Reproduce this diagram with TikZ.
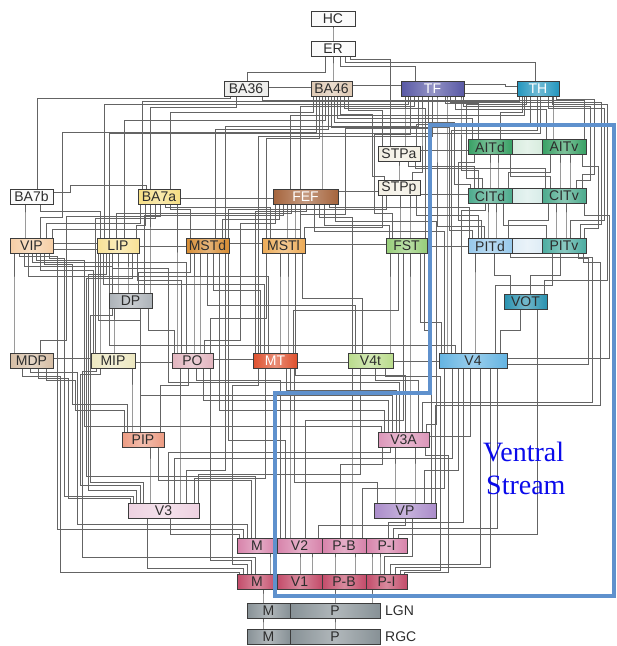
\documentclass[tikz,border=0pt]{standalone}
\usepackage{fontspec}
\setmainfont{Liberation Sans}
\newfontfamily\vsfont{Liberation Serif}
\pgfdeclarelayer{bg}
\pgfsetlayers{bg,main}
\definecolor{cBorder}{RGB}{60,60,60}
\definecolor{cLine}{RGB}{100,100,100}
\definecolor{cText}{RGB}{45,45,45}
\definecolor{cW}{RGB}{250,250,250}
\definecolor{cBA36}{RGB}{236,236,234}
\definecolor{cBA46}{RGB}{222,200,178}
\definecolor{cTF}{RGB}{88,88,165}
\definecolor{cTH}{RGB}{35,150,190}
\definecolor{cSTP}{RGB}{242,238,226}
\definecolor{cAIT}{RGB}{55,160,100}
\definecolor{cAITm}{RGB}{215,236,222}
\definecolor{cCIT}{RGB}{75,170,140}
\definecolor{cCITm}{RGB}{215,236,232}
\definecolor{cPITd}{RGB}{150,200,235}
\definecolor{cPITm}{RGB}{222,236,246}
\definecolor{cPITv}{RGB}{75,172,160}
\definecolor{cFST}{RGB}{150,205,120}
\definecolor{cFEF}{RGB}{165,100,60}
\definecolor{cBAsa}{RGB}{246,222,130}
\definecolor{cVIP}{RGB}{246,206,165}
\definecolor{cLIP}{RGB}{248,226,150}
\definecolor{cMSTd}{RGB}{215,140,50}
\definecolor{cMSTl}{RGB}{236,170,85}
\definecolor{cDP}{RGB}{172,178,184}
\definecolor{cMDP}{RGB}{214,190,165}
\definecolor{cMIP}{RGB}{236,231,192}
\definecolor{cPO}{RGB}{226,180,190}
\definecolor{cMT}{RGB}{222,80,45}
\definecolor{cVft}{RGB}{186,220,140}
\definecolor{cVf}{RGB}{100,180,226}
\definecolor{cVOT}{RGB}{40,145,175}
\definecolor{cPIP}{RGB}{236,155,130}
\definecolor{cVtA}{RGB}{220,150,185}
\definecolor{cVt}{RGB}{238,210,225}
\definecolor{cVP}{RGB}{170,140,202}
\definecolor{cVtwo}{RGB}{215,130,170}
\definecolor{cVone}{RGB}{195,75,105}
\definecolor{cLGN}{RGB}{135,145,150}
\definecolor{cFrame}{RGB}{95,145,205}
\definecolor{cVS}{RGB}{10,10,235}
\tikzset{
  box/.style={draw=cBorder, line width=0.7pt, left color=#1, right color=#1,
    middle color=#1!65!white, minimum height=15pt, inner sep=0pt,
    font=\fontsize{14}{14}\selectfont, text=cText},
  lbl/.style={inner sep=0pt, font=\fontsize{14}{14}\selectfont, text=cText},
}
% lower node A (north, x=xa) up to level L, across to x=xb, up to upper node B (south)
\newcommand\Cn[5]{\draw (#1.north -| #2,0) -- (#2,#3) -| (#4.south -| #5,0);}
% with a detour column X between levels L1 and L2
\newcommand\Cw[7]{\draw (#1.north -| #2,0) -- (#2,#3) -| (#4,#5) -| (#6.south -| #7,0);}
% from the east side of A
\newcommand\Cv[6]{\draw (#1.east |- 0,#2) -| (#3,#4) -| (#5.south -| #6,0);}
% side by side
\newcommand\Sd[5]{\draw (#1.#2 |- 0,#3) -- (#4.#5 |- 0,#3);}
\begin{document}
\begin{tikzpicture}[x=1pt,y=-1pt]
\useasboundingbox (0,0) rectangle (617,646);
% ---------------- nodes ----------------
\node[box=cW, minimum width=44pt] (HC) at (333,18.5) {HC};
\node[box=cW, minimum width=44pt] (ER) at (333,48.5) {ER};
\node[box=cBA36, minimum width=44pt] (BA36) at (246,88.5) {BA36};
\node[box=cBA46, minimum width=41pt] (BA46) at (331.5,88.5) {BA46};
\node[box=cTF, minimum width=63pt, text=white] (TF) at (432.5,88.5) {TF};
\node[box=cTH, minimum width=42pt, text=white] (TH) at (538,88.5) {TH};
\node[box=cSTP, minimum width=42pt] (STPa) at (399,153.5) {STPa};
\node[box=cSTP, minimum width=42pt] (STPp) at (399,188) {STPp};
\node[box=cAIT, minimum width=44pt] (AITd) at (490,147) {AITd};
\node[box=cAITm, minimum width=30pt] (AITm) at (527,147) {};
\node[box=cAIT, minimum width=44pt] (AITv) at (564,147) {AITv};
\node[box=cCIT, minimum width=44pt] (CITd) at (490,196) {CITd};
\node[box=cCITm, minimum width=30pt] (CITm) at (527,196) {};
\node[box=cCIT, minimum width=44pt] (CITv) at (564,196) {CITv};
\node[box=cPITd, minimum width=44pt] (PITd) at (490,246) {PITd};
\node[box=cPITm, minimum width=30pt] (PITm) at (527,246) {};
\node[box=cPITv, minimum width=44pt] (PITv) at (564,246) {PITv};
\node[box=cW, minimum width=43pt] (BA7b) at (31.5,196.5) {BA7b};
\node[box=cBAsa, minimum width=42pt] (BA7a) at (159,196.5) {BA7a};
\node[box=cFEF, minimum width=65pt, text=white] (FEF) at (305.5,197) {FEF};
\node[box=cVIP, minimum width=43pt] (VIP) at (31.5,245.5) {VIP};
\node[box=cLIP, minimum width=42pt] (LIP) at (118,245.5) {LIP};
\node[box=cMSTd, minimum width=43pt] (MSTd) at (207.5,245.5) {MSTd};
\node[box=cMSTl, minimum width=43pt] (MSTl) at (283.5,245.5) {MSTl};
\node[box=cFST, minimum width=41pt] (FST) at (406.5,245.5) {FST};
\node[box=cDP, minimum width=43pt] (DP) at (130.5,301) {DP};
\node[box=cVOT, minimum width=43pt] (VOT) at (525.5,301.5) {VOT};
\node[box=cMDP, minimum width=43pt] (MDP) at (31.5,361) {MDP};
\node[box=cMIP, minimum width=44pt] (MIP) at (113,361) {MIP};
\node[box=cPO, minimum width=41pt] (PO) at (192.5,361) {PO};
\node[box=cMT, minimum width=44pt, text=white] (MT) at (275,361) {MT};
\node[box=cVft, minimum width=45pt] (V4t) at (370.5,361) {V4t};
\node[box=cVf, minimum width=68pt] (V4) at (473,361) {V4};
\node[box=cPIP, minimum width=42pt] (PIP) at (143,439.5) {PIP};
\node[box=cVtA, minimum width=51pt] (V3A) at (403.5,439.5) {V3A};
\node[box=cVt, minimum width=71pt] (V3) at (163.5,510.5) {V3};
\node[box=cVP, minimum width=62pt] (VP) at (405,510.5) {VP};
\node[box=cVtwo, minimum width=40pt] (v2m) at (257,546) {M};
\node[box=cVtwo, minimum width=45pt] (v2) at (299.5,546) {V2};
\node[box=cVtwo, minimum width=44pt] (v2pb) at (344,546) {P-B};
\node[box=cVtwo, minimum width=41pt] (v2pi) at (386.5,546) {P-I};
\node[box=cVone, minimum width=40pt] (v1m) at (257,582) {M};
\node[box=cVone, minimum width=45pt] (v1) at (299.5,582) {V1};
\node[box=cVone, minimum width=44pt] (v1pb) at (344,582) {P-B};
\node[box=cVone, minimum width=41pt] (v1pi) at (386.5,582) {P-I};
\node[box=cLGN, minimum width=43pt] (lgnm) at (268.5,611) {M};
\node[box=cLGN, minimum width=90pt] (lgnp) at (335,611) {P};
\node[box=cLGN, minimum width=43pt] (rgcm) at (268.5,637) {M};
\node[box=cLGN, minimum width=90pt] (rgcp) at (335,637) {P};
\node[lbl, anchor=west] (lgnlab) at (385,611) {LGN};
\node[lbl, anchor=west] (rgclab) at (385,637) {RGC};
% ---------------- connectors ----------------
\begin{pgfonlayer}{bg}
\fill[white] (0,0) rectangle (617,646);
\begin{scope}[draw=cLine, line width=0.8pt]
\foreach \a/\b/\c/\d/\e in {
ER/333/30/HC/333, BA36/247/72/ER/325, BA46/333/70/ER/333, TF/415/66/ER/340,
TH/535/62/ER/345, STPa/390/59/ER/350,
BA7b/37/98/BA36/230, AITv/584/100/BA36/262, BA7a/142/101/TH/519,
LIP/104/104/TF/408, BA7a/150/107/BA36/236, FEF/300/106/TF/414,
AITd/478/103/TF/445, AITv/546/109/TF/455, STPa/382/110/BA46/348,
BA7a/170/112/BA46/313, AITd/500/112/TH/522, STPa/405/120/TF/405,
FEF/290/115/TH/524, AITd/472/118/BA46/337, AITv/553/120/TH/553,
LIP/124/120/BA46/325, STPa/416/124/TH/530, MSTd/225/126/TF/418,
MSTd/215/129/BA46/328, V4/451/130/TH/537, LIP/109/133/TH/540,
MT/258/136/TF/432, MSTl/266/138/BA46/319, FST/425/108/BA46/344,
V4/447/100/TF/447, FEF/322/150/BA46/322,
STPp/399/170/STPa/399, CITd/474/166/STPa/408, CITv/545/168/STPa/415,
CITd/490/170/AITd/490, CITd/498/170/AITd/498, CITv/560/170/AITv/560,
CITv/570/170/AITv/570, CITd/508/172/AITv/550, CITv/550/176/AITd/510,
LIP/100/211/BA7b/40, LIP/116/213/FEF/291, LIP/136/225/BA7a/145,
VIP/46/223/BA7a/140, VIP/52/229/FEF/300, VIP/25/220/BA7b/25,
MSTd/222/219/FEF/279, MSTd/190/209/BA7a/170, MSTd/228/209/STPp/386,
MSTl/270/207/BA7a/165, MSTl/287/220/FEF/287, MSTl/295/220/FEF/295,
MSTl/304/227/STPp/382, MT/255/211/FEF/306, DP/144/215/FEF/283,
V4t/352/217/FEF/319, FST/389/225/FEF/324, V4/444/231/FEF/314,
PITd/469/207/FEF/329, PITd/478/215/STPp/416, PITd/508/220/CITv/548,
PITv/546/225/CITd/503, PITd/488/220/CITd/488, PITd/496/220/CITd/496,
PITv/556/220/CITv/556, PITv/566/220/CITv/566, V4/461/210/CITd/485,
MIP/93/270/VIP/40, PO/186/262/VIP/32, DP/112/266/VIP/24,
MT/268/276/VIP/28, MDP/14/300/VIP/14,
DP/118/280/LIP/118, DP/128/280/LIP/128, PO/181/280/LIP/137,
MT/264/284/LIP/103, MIP/100/300/LIP/100, V4/455/345/LIP/109,
PIP/140/320/LIP/98, MT/260/290/MSTd/213, DP/138/272/MSTd/190,
PO/194/300/MSTd/194, PO/200/300/MSTd/200, V4t/355/305/MSTd/207,
V4t/362/298/MSTl/302, MT/280/300/MSTl/280, MT/288/300/MSTl/288,
MT/293/310/FST/398, V4t/390/300/FST/390, V4/441/322/FST/420,
V3A/410/300/FST/410, VP/431/330/FST/424, PO/210/318/MSTl/266,
FST/400/220/STPp/400, FST/410/220/STPp/410,
PO/174/330/DP/148, MIP/114/330/DP/114, PO/177/300/BA7a/177,
DP/150/250/BA7a/150, MIP/95/218/BA7a/155, PIP/132/400/MIP/132,
VOT/510/275/PITd/494, VOT/530/275/PITv/560, V4/475/290/PITd/475,
V4/495/285/PITv/552, V4/500/330/VOT/520,
V3A/384/410/MSTd/219, V3A/388/400/PO/203, V3A/392/395/DP/140,
V3A/396/390/MT/286, PIP/160/385/PO/188, v2/280/380/PO/196,
V3/180/450/PO/180, V3/150/470/PIP/150, v2/290/450/MT/290,
V3/168/452/V3A/390, V3/174/458/V4/452, V3/186/470/MSTd/225,
V3/194/478/MT/265, v2m/251/480/PIP/158, VP/377/482/MT/294,
v2pb/340/464/V3A/382, v2pb/362/488/V4/444, VP/424/470/V4/458,
VP/395/480/V3A/395, VP/415/480/V3A/415, v2pb/352/450/V4t/352,
v2m/239/534/V3/170, v2/318/525/VP/405, v2pi/388/522/V4/463,
v2pi/393/528/V4/497, v2pi/398/534/VOT/537,
v1m/243/568/V3/147, v1m/251/560/PO/210, v1m/270/560/v2m/270,
v1/300/560/v2/300, v1/312/560/v2/312, v1pb/335/560/v2pb/335,
v1pb/355/560/v2pb/355, v1pi/372/560/v2pi/372, v1pi/380/560/v2pi/380,
v1pi/384/556/VP/412, v1pi/390/564/V4/480, v1pi/395/567/V4/490,
lgnm/263/597/v1m/263, rgcm/263/625/lgnm/263, lgnp/335/597/v1pb/335,
lgnp/372/597/v1pi/372, rgcp/335/625/lgnp/335,
V3/198/474/V4t/360, v2/285/440/MSTd/228, v2/305/420/FST/403,
V3A/405/375/MSTl/295, V3A/418/380/V4t/375}
{\Cn{\a}{\b}{\c}{\d}{\e}}
\foreach \a/\b/\c/\d/\e/\f/\g in {
STPp/384/176/372/114/BA46/340, STPp/412/172/422/120/TF/422,
CITd/470/184/454/122/BA46/334, CITd/478/170/461/100/TF/461,
CITd/482/178/466/104/TH/526, CITv/576/180/590/106/TF/463,
CITv/582/174/594/99/TH/556, PITd/472/230/449/127/BA46/331,
PITd/484/226/437/100/TF/437, PITd/481/220/458/162/AITd/474,
PITv/570/220/604/108/TH/548, PITv/580/224/601/102/TF/450,
PITv/584/228/598/166/AITv/582, VOT/544/280/607/104/TH/552,
VIP/40/217/62/132/BA46/316, FST/392/213/374/134/TF/410,
MSTl/300/214/345/128/TF/428, V3A/426/424/436/221/FEF/335,
PO/204/340/240/223/FEF/275, MDP/40/340/66/216/BA7a/160,
V3/133/496/64/258/VIP/49, V3A/381/426/84/260/VIP/36,
v2m/243/529/57/256/VIP/19, PIP/127/404/72/264/VIP/44,
V3/136/490/88/274/LIP/106, V3A/399/382/168/268/LIP/112,
v1m/247/564/232/385/MT/258, v1m/239/572/60/376/MDP/22,
V3/130/498/68/378/MDP/38, V3/140/485/80/374/MIP/100,
PIP/124/410/75/380/MDP/46, v2m/247/524/77/372/MDP/30,
v1pi/400/570/440/376/V4t/385, v1pi/404/572/448/455/V3A/425,
V3/143/482/90/315/DP/112, v2m/255/476/86/278/LIP/132,
v1m/255/557/82/371/MIP/96, VP/435/405/600/262/PITv/583,
V3A/422/402/592/257/PITd/510}
{\Cw{\a}{\b}{\c}{\d}{\e}{\f}{\g}}
\Cv{V4}{358}{609}{215}{CITv}{584}
\Cv{V4}{364}{588}{258}{PITv}{578}
\foreach \a/\b/\c/\d/\e in {
BA36/east/87/BA46/west, BA46/east/85/TF/west, TF/east/93/TH/west,
STPa/east/150/AITd/west, BA7a/east/198/FEF/west, FEF/east/191/STPp/west,
STPp/east/194/CITd/west, VIP/east/243/LIP/west, VIP/east/249/LIP/west,
LIP/east/246/MSTd/west, MSTd/east/243/MSTl/west, MSTl/east/244/FST/west,
FST/east/246/PITd/west, MDP/east/358/MIP/west, MIP/east/362/PO/west,
PO/east/359/MT/west, MT/east/362/V4t/west, V4t/east/361/V4/west}
{\Sd{\a}{\b}{\c}{\d}{\e}}
\draw (TF.east |- 0,84) -| (505,86) -- (TH.west |- 0,86);
\draw (BA7b.east |- 0,192) -| (70,185) -| (BA7a.north -| 146,0);
\draw (V3A.east |- 0,436) -| (V4.south -| 470,0);
\end{scope}
\end{pgfonlayer}
% ---------------- ventral stream frame ----------------
\draw[cFrame, line width=4pt] (430,125) -- (614,125) -- (614,596) -- (275,596)
  -- (275,393) -- (430,393) -- cycle;
\node[inner sep=0pt, anchor=base west, text=cVS, font=\vsfont\fontsize{28}{28}\selectfont] (vs1) at (483,461) {Ventral};
\node[inner sep=0pt, anchor=base west, text=cVS, font=\vsfont\fontsize{28}{28}\selectfont] (vs2) at (486,494) {Stream};
\end{tikzpicture}
\end{document}
